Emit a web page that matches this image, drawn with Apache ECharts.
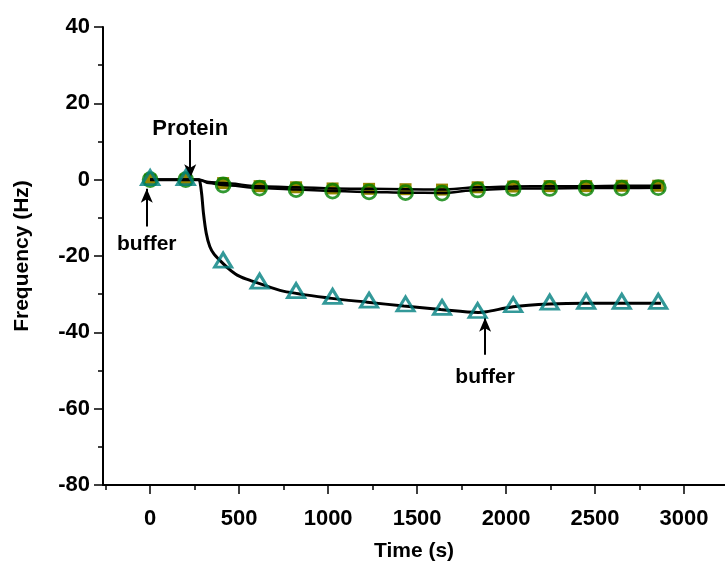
<!DOCTYPE html>
<html>
<head>
<meta charset="utf-8">
<script src="https://cdn.jsdelivr.net/npm/echarts@6/dist/echarts.min.js"></script>
<style>
  html, body { margin: 0; padding: 0; background: #fff; }
  #chart { width: 725px; height: 562px; }
</style>
</head>
<body>
<div id="chart"></div>
<script>
// Sampling times (s) of the plotted symbols
const markerTimes = [0, 200, 410, 615, 820, 1025, 1230, 1435, 1640, 1840, 2040, 2245, 2450, 2650, 2855];
// Frequency shift (Hz) at each symbol
const triangleValues = [0, 0, -21.6, -27.1, -29.6, -31.1, -32.1, -33.1, -34.0, -34.8, -33.3, -32.6, -32.4, -32.4, -32.4];
const circleValues   = [0, 0, -1.4, -2.2, -2.6, -3.0, -3.2, -3.4, -3.5, -2.7, -2.3, -2.3, -2.2, -2.2, -2.1];
const squareValues   = [0, 0, -0.9, -1.7, -2.0, -2.3, -2.4, -2.5, -2.6, -2.0, -1.8, -1.7, -1.7, -1.6, -1.6];

// Continuous traces [time (s), frequency (Hz)]
const triangleTrace = [[0, 0], [200, 0], [272, 0], [280, -0.6], [290, -4.0], [300, -9.0], [315, -14.0], [335, -17.5],
  [360, -19.6], [393, -21.2], [440, -23.3], [489, -25.0], [550, -26.2], [607, -27.1], [747, -29.2], [1020, -31.1],
  [1220, -32.1], [1425, -33.1], [1633, -34.0], [1843, -34.8], [1890, -34.6], [2040, -33.3], [2245, -32.6],
  [2444, -32.4], [2650, -32.4], [2870, -32.4]];
const circleTrace = [[0, 0], [200, 0], [275, 0], [330, -0.9], [410, -1.4], [615, -2.2], [820, -2.6], [1025, -3.0],
  [1230, -3.2], [1435, -3.4], [1640, -3.5], [1840, -2.7], [2040, -2.3], [2245, -2.3], [2450, -2.2], [2650, -2.2], [2870, -2.1]];
const squareTrace = [[0, 0], [200, 0], [275, 0], [330, -0.6], [410, -0.9], [615, -1.7], [820, -2.0], [1025, -2.3],
  [1230, -2.4], [1435, -2.5], [1640, -2.6], [1840, -2.0], [2040, -1.8], [2245, -1.7], [2450, -1.7], [2650, -1.6], [2870, -1.6]];

// Axis ticks
const xMajorTicks = [0, 500, 1000, 1500, 2000, 2500, 3000];
const xMinorTicks = [-250, 250, 750, 1250, 1750, 2250, 2750, 3250];

// Annotation arrows: text, time, tail frequency, head frequency
const noteTexts = ['Protein', 'buffer', 'buffer'];
const noteTimes = [225, -19, 1882];
const noteTails = [10.4, -12.3, -45.9];
const noteHeads = [0.4, -2.4, -36.2];
const noteGaps  = [0, 7, 12];

const FONT = '"Liberation Sans", Arial, sans-serif';
const pair = (xs, ys) => xs.map((x, i) => [x, ys[i]]);
const textStyle = (size) => ({ color: '#000', fontFamily: FONT, fontWeight: 'bold', fontSize: size });

const chart = echarts.init(document.getElementById('chart'), null, { renderer: 'canvas' });

const arrowData = noteTexts.map((t, i) => [
  { coord: [noteTimes[i], noteTails[i]],
    label: Object.assign({ show: true, position: 'start', formatter: t, distance: noteGaps[i] }, textStyle(i === 0 ? 22 : 21)) },
  { coord: [noteTimes[i], noteHeads[i]] }
]);

chart.setOption({
  animation: false,
  backgroundColor: '#fff',
  grid: { left: 103, right: 0, top: 27, bottom: 77, containLabel: false, outerBoundsMode: 'none' },
  xAxis: [{
    type: 'value', min: -265, max: 3230,
    name: 'Time (s)', nameLocation: 'middle', nameGap: 56,
    nameTextStyle: textStyle(21),
    axisLine: { show: true, onZero: false, lineStyle: { color: '#000', width: 2 } },
    axisTick: { show: true, customValues: xMajorTicks, length: 9, lineStyle: { color: '#000', width: 1.5 } },
    axisLabel: Object.assign({ customValues: xMajorTicks, margin: 23, formatter: v => String(v) }, textStyle(22)),
    splitLine: { show: false }
  }, {
    type: 'value', min: -265, max: 3230, position: 'bottom',
    axisLine: { show: false, onZero: false },
    axisTick: { show: true, customValues: xMinorTicks, length: 5, lineStyle: { color: '#000', width: 1.5 } },
    axisLabel: { show: false },
    splitLine: { show: false }
  }],
  yAxis: {
    type: 'value', min: -80, max: 40, interval: 20,
    name: 'Frequency (Hz)', nameLocation: 'middle', nameGap: 70,
    nameTextStyle: textStyle(21),
    axisLine: { show: true, onZero: false, lineStyle: { color: '#000', width: 2 } },
    axisTick: { show: true, length: 9, lineStyle: { color: '#000', width: 1.5 } },
    minorTick: { show: true, splitNumber: 2, length: 5, lineStyle: { color: '#000', width: 1.5 } },
    axisLabel: Object.assign({ margin: 13 }, textStyle(22)),
    splitLine: { show: false }
  },
  series: [
    { type: 'scatter', name: 'square', data: pair(markerTimes, squareValues), z: 2,
      symbol: 'rect', symbolSize: 12, itemStyle: { color: '#938600', opacity: 1 } },
    { type: 'line', data: squareTrace, z: 3, showSymbol: false, smooth: 0.3, smoothMonotone: 'x',
      lineStyle: { color: '#000', width: 2.5 } },
    { type: 'line', data: circleTrace, z: 3, showSymbol: false, smooth: 0.3, smoothMonotone: 'x',
      lineStyle: { color: '#000', width: 2.5 } },
    { type: 'line', data: triangleTrace, z: 3, showSymbol: false, smooth: 0.3,
      lineStyle: { color: '#000', width: 3 },
      markLine: {
        silent: true, animation: false, symbol: ['none', 'arrow'], symbolSize: [9, 14],
        lineStyle: { color: '#000', width: 2, type: 'solid' },
        data: arrowData
      } },
    { type: 'scatter', name: 'circle', data: pair(markerTimes, circleValues), z: 4,
      symbol: 'circle', symbolSize: 14,
      itemStyle: { color: 'rgba(0,0,0,0)', borderColor: '#008000', borderWidth: 2.8 } },
    { type: 'scatter', name: 'triangle', data: pair(markerTimes, triangleValues), z: 5,
      symbol: 'triangle', symbolSize: [17, 14], symbolOffset: [0, -2],
      itemStyle: { color: 'rgba(0,0,0,0)', borderColor: '#008080', borderWidth: 3 } }
  ]
});
</script>
</body>
</html>
